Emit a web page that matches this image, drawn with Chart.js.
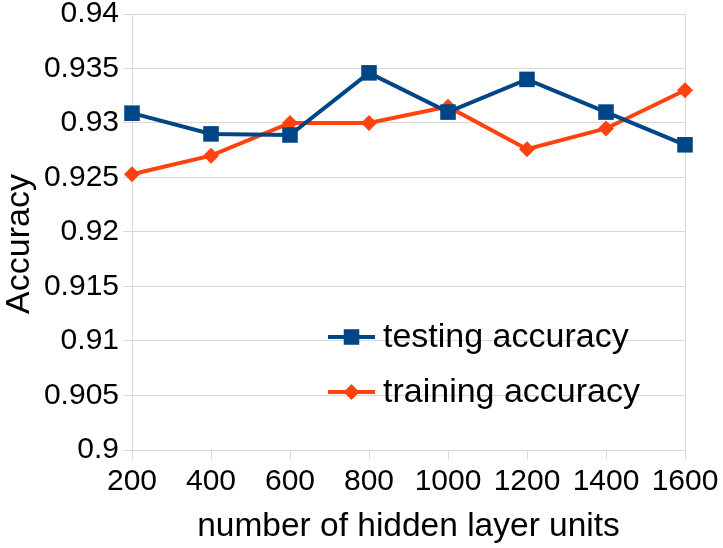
<!DOCTYPE html>
<html>
<head>
<meta charset="utf-8">
<script src="https://cdn.jsdelivr.net/npm/chart.js@4"></script>
<style>
html,body{margin:0;padding:0;background:#fff;}
#wrap{width:723px;height:548px;position:relative;}
</style>
</head>
<body>
<div id="wrap"><canvas id="c" width="723" height="548"></canvas></div>
<script>
const categories = [200, 400, 600, 800, 1000, 1200, 1400, 1600];
const testingAccuracy = [0.9309, 0.9290, 0.9289, 0.9346, 0.9310, 0.9340, 0.9310, 0.9280];
const trainingAccuracy = [0.9253, 0.9270, 0.9300, 0.9300, 0.9315, 0.9276, 0.9295, 0.9330];
const yTicks = [0.9, 0.905, 0.91, 0.915, 0.92, 0.925, 0.93, 0.935, 0.94];
const seriesNames = ['testing accuracy', 'training accuracy'];
const yTitle = 'Accuracy';
const xTitle = 'number of hidden layer units';

const FONT = '"Liberation Sans", Arial, sans-serif';
const GRID = '#d9d9d9';

const textPlugin = {
  id: 'inlineLegendAndTitle',
  afterDraw(chart) {
    const ctx = chart.ctx;
    // y axis title
    ctx.save();
    ctx.translate(20, 244);
    ctx.rotate(-Math.PI / 2);
    ctx.fillStyle = '#000';
    ctx.font = '34px ' + FONT;
    ctx.textAlign = 'center';
    ctx.textBaseline = 'middle';
    ctx.fillText(yTitle, 0, 0);
    ctx.restore();

    const rows = [337, 392];
    chart.data.datasets.forEach((ds, i) => {
      const y = rows[i];
      const x0 = 328, x1 = 375, cx = 351.5;
      ctx.save();
      ctx.strokeStyle = ds.borderColor;
      ctx.lineWidth = ds.borderWidth;
      ctx.beginPath();
      ctx.moveTo(x0, y); ctx.lineTo(x1, y);
      ctx.stroke();
      ctx.fillStyle = ds.pointBackgroundColor;
      ctx.beginPath();
      if (ds.pointStyle === 'rect') {
        const s = Math.SQRT1_2 * ds.pointRadius;
        ctx.rect(cx - s, y - s, 2 * s, 2 * s);
      } else {
        const r = ds.pointRadius;
        ctx.moveTo(cx, y - r); ctx.lineTo(cx + r, y); ctx.lineTo(cx, y + r); ctx.lineTo(cx - r, y); ctx.closePath();
      }
      ctx.fill();
      ctx.fillStyle = '#000';
      ctx.font = '34px ' + FONT;
      ctx.textBaseline = 'middle';
      ctx.textAlign = 'left';
      ctx.fillText(ds.label, 383, y + 1);
      ctx.restore();
    });
  }
};

new Chart(document.getElementById('c'), {
  type: 'line',
  data: {
    labels: categories,
    datasets: [
      {
        label: seriesNames[0],
        data: testingAccuracy,
        borderColor: '#004586',
        backgroundColor: '#004586',
        pointBackgroundColor: '#004586',
        pointBorderColor: '#004586',
        borderWidth: 4,
        pointStyle: 'rect',
        pointRadius: 11,
        pointBorderWidth: 0,
        tension: 0
      },
      {
        label: seriesNames[1],
        data: trainingAccuracy,
        borderColor: '#ff420e',
        backgroundColor: '#ff420e',
        pointBackgroundColor: '#ff420e',
        pointBorderColor: '#ff420e',
        borderWidth: 4,
        pointStyle: 'rectRot',
        pointRadius: 8,
        pointBorderWidth: 0,
        tension: 0
      }
    ]
  },
  options: {
    responsive: false,
    animation: false,
    events: [],
    layout: { padding: { top: 14, right: 38, left: 0, bottom: 0 } },
    plugins: {
      legend: { display: false },
      tooltip: { enabled: false }
    },
    scales: {
      x: {
        type: 'category',
        offset: false,
        afterFit(s) { s.height = 98; s.paddingLeft = 0; s.paddingRight = 0; },
        grid: {
          color: (c) => (c.index === categories.length - 1 ? GRID : 'rgba(0,0,0,0)'),
          tickColor: GRID,
          tickLength: 9,
          lineWidth: 1
        },
        border: { color: GRID, width: 1 },
        ticks: {
          color: '#000',
          font: { family: FONT, size: 30 },
          padding: 5,
          maxRotation: 0,
          autoSkip: false
        },
        title: {
          display: true,
          text: xTitle,
          color: '#000',
          font: { family: FONT, size: 33.5 },
          padding: { top: 0, bottom: 1 }
        }
      },
      y: {
        min: 0.9,
        max: 0.94,
        afterFit(s) { s.width = 132; s.paddingTop = 0; s.paddingBottom = 0; },
        afterBuildTicks(s) { s.ticks = yTicks.map(v => ({ value: v })); },
        grid: { color: GRID, tickColor: GRID, tickLength: 9, lineWidth: 1 },
        border: { color: GRID, width: 1 },
        ticks: {
          color: '#000',
          font: { family: FONT, size: 30 },
          padding: 4,
          callback: (v) => String(Number(Number(v).toFixed(3)))
        },
        title: { display: false }
      }
    }
  },
  plugins: [textPlugin]
});
</script>
</body>
</html>
